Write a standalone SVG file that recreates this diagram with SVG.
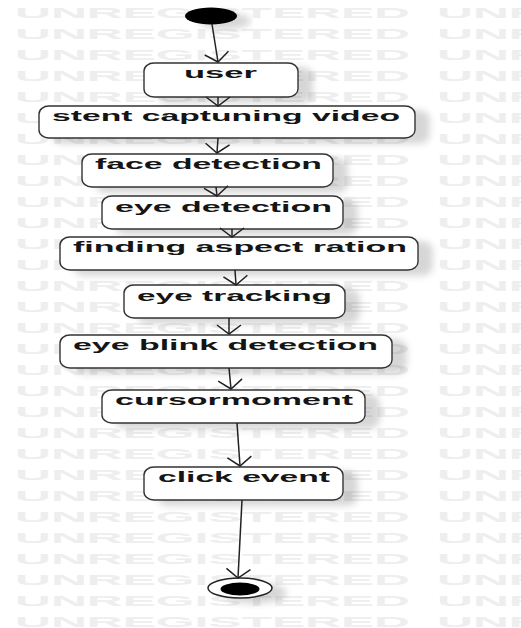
<svg xmlns="http://www.w3.org/2000/svg" xmlns:xlink="http://www.w3.org/1999/xlink" width="521" height="628" viewBox="0 0 521 628">
<style>
.wm{font-family:"Liberation Sans",Arial,sans-serif;font-weight:bold;font-size:14px;fill:#eeeeee}
.box{fill:#fff;stroke:#333;stroke-width:1.4}
.lbl{font-family:"Liberation Sans",Arial,sans-serif;font-weight:bold;font-size:15px;fill:#151515}
.edge{fill:none;stroke:#222;stroke-width:1.5}
.sh{filter:url(#shadow)}
</style>
<defs>
<filter id="shadow" x="-20%" y="-40%" width="150%" height="200%">
<feGaussianBlur in="SourceAlpha" stdDeviation="3.5" result="b"/>
<feOffset in="b" dx="14" dy="5" result="o"/>
<feFlood flood-color="#000" flood-opacity="0.16"/>
<feComposite in2="o" operator="in" result="s"/>
<feMerge><feMergeNode in="s"/><feMergeNode in="SourceGraphic"/></feMerge>
</filter>
<marker id="arr" viewBox="-11 -14 13 28" markerWidth="13" markerHeight="28" refX="0" refY="0" orient="auto" markerUnits="userSpaceOnUse">
<path d="M-9,-12 L0,0 L-9,12" fill="none" stroke="#222" stroke-width="1.5"/>
</marker>
<g id="wmrow">
<text class="wm" x="15" y="18" textLength="395" lengthAdjust="spacingAndGlyphs">UNREGISTERED</text>
<text class="wm" x="437" y="18" textLength="395" lengthAdjust="spacingAndGlyphs">UNREGISTERED</text>
</g>
</defs>
<rect width="521" height="628" fill="#fff"/>
<g id="watermark">
<use xlink:href="#wmrow" y="0"/><use xlink:href="#wmrow" y="21"/><use xlink:href="#wmrow" y="42"/><use xlink:href="#wmrow" y="63"/><use xlink:href="#wmrow" y="84"/><use xlink:href="#wmrow" y="105"/><use xlink:href="#wmrow" y="126"/><use xlink:href="#wmrow" y="147"/><use xlink:href="#wmrow" y="168"/><use xlink:href="#wmrow" y="189"/><use xlink:href="#wmrow" y="210"/><use xlink:href="#wmrow" y="231"/><use xlink:href="#wmrow" y="252"/><use xlink:href="#wmrow" y="273"/><use xlink:href="#wmrow" y="294"/><use xlink:href="#wmrow" y="315"/><use xlink:href="#wmrow" y="336"/><use xlink:href="#wmrow" y="357"/><use xlink:href="#wmrow" y="378"/><use xlink:href="#wmrow" y="399"/><use xlink:href="#wmrow" y="420"/><use xlink:href="#wmrow" y="441"/><use xlink:href="#wmrow" y="462"/><use xlink:href="#wmrow" y="483"/><use xlink:href="#wmrow" y="504"/><use xlink:href="#wmrow" y="525"/><use xlink:href="#wmrow" y="546"/><use xlink:href="#wmrow" y="567"/><use xlink:href="#wmrow" y="588"/><use xlink:href="#wmrow" y="609"/>
</g>
<g id="start"><ellipse class="sh" cx="211" cy="16" rx="26" ry="8.5" fill="#000"/></g>
<g id="n-user"><rect class="box sh" x="144" y="63" width="154" height="34" rx="10" ry="8"/><text class="lbl" x="184" y="78" textLength="73" lengthAdjust="spacingAndGlyphs">user</text></g>
<g id="n-stent"><rect class="box sh" x="39" y="106" width="376" height="32" rx="10" ry="8"/><text class="lbl" x="52" y="121" textLength="348" lengthAdjust="spacingAndGlyphs">stent captuning video</text></g>
<g id="n-face"><rect class="box sh" x="82" y="154" width="251" height="33" rx="10" ry="8"/><text class="lbl" x="95" y="169" textLength="227" lengthAdjust="spacingAndGlyphs">face detection</text></g>
<g id="n-eye"><rect class="box sh" x="102" y="196" width="241" height="33" rx="10" ry="8"/><text class="lbl" x="115" y="212" textLength="217" lengthAdjust="spacingAndGlyphs">eye detection</text></g>
<g id="n-aspect"><rect class="box sh" x="60" y="237" width="358" height="33" rx="10" ry="8"/><text class="lbl" x="73" y="252" textLength="334" lengthAdjust="spacingAndGlyphs">finding aspect ration</text></g>
<g id="n-track"><rect class="box sh" x="124" y="285" width="221" height="33" rx="10" ry="8"/><text class="lbl" x="137" y="301" textLength="195" lengthAdjust="spacingAndGlyphs">eye tracking</text></g>
<g id="n-blink"><rect class="box sh" x="60" y="335" width="332" height="33" rx="10" ry="8"/><text class="lbl" x="73" y="350" textLength="305" lengthAdjust="spacingAndGlyphs">eye blink detection</text></g>
<g id="n-cursor"><rect class="box sh" x="102" y="390" width="263" height="33" rx="10" ry="8"/><text class="lbl" x="115" y="405" textLength="238" lengthAdjust="spacingAndGlyphs">cursormoment</text></g>
<g id="n-click"><rect class="box sh" x="144" y="467" width="199" height="33" rx="10" ry="8"/><text class="lbl" x="158" y="482" textLength="172" lengthAdjust="spacingAndGlyphs">click event</text></g>
<g id="end"><ellipse class="sh" cx="240" cy="588" rx="32" ry="10" fill="#fff" stroke="#222" stroke-width="1.5"/><ellipse cx="240" cy="589" rx="19.5" ry="6.5" fill="#000"/></g>
<g id="connectors">
<path class="edge" marker-end="url(#arr)" d="M212,24 L218,62"/>
<path class="edge" marker-end="url(#arr)" d="M218,97 L218,106"/>
<path class="edge" marker-end="url(#arr)" d="M218,138 L217,153"/>
<path class="edge" marker-end="url(#arr)" d="M216,187 L217,196"/>
<path class="edge" marker-end="url(#arr)" d="M232,229 L232,237"/>
<path class="edge" marker-end="url(#arr)" d="M235,270 L236,285"/>
<path class="edge" marker-end="url(#arr)" d="M229,318 L229,334"/>
<path class="edge" marker-end="url(#arr)" d="M229,368 L231,389"/>
<path class="edge" marker-end="url(#arr)" d="M237,423 L240,466"/>
<path class="edge" marker-end="url(#arr)" d="M242,500 L238,578"/>
</g>
</svg>
